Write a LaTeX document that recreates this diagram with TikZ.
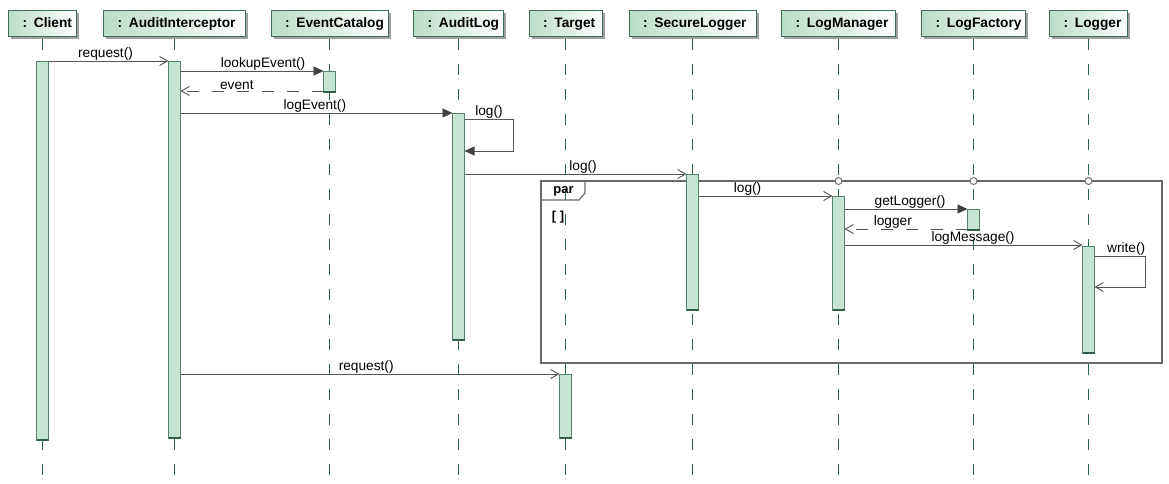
\documentclass[tikz,border=0pt]{standalone}
\usepackage{fontspec}
\setmainfont{Liberation Sans}
\usetikzlibrary{arrows.meta,shadows}

\definecolor{hdrL}{RGB}{186,221,200}
\definecolor{hdrB}{RGB}{62,110,86}
\definecolor{actF}{RGB}{197,228,211}
\definecolor{actB}{RGB}{84,130,106}
\definecolor{actBot}{RGB}{50,95,72}
\definecolor{lifeC}{RGB}{45,100,72}
\definecolor{msgC}{RGB}{85,85,85}
\definecolor{tipC}{RGB}{65,65,65}
\definecolor{frameC}{RGB}{105,105,105}
\definecolor{shadowC}{RGB}{160,160,160}

\tikzset{
  hdr/.style={draw=hdrB, line width=0.9pt, left color=hdrL, right color=white,
    minimum height=26pt, inner xsep=0pt, inner ysep=0pt, outer sep=0pt, align=left,
    text height=10pt, text depth=0.5pt,
    font=\fontsize{13.7}{15}\selectfont\bfseries,
    drop shadow={shadow xshift=2.5pt, shadow yshift=-2.5pt, fill=shadowC, opacity=1},
    execute at begin node=\hspace*{14pt}},
  life/.style={draw=lifeC, line width=1pt, dash pattern=on 11pt off 14pt},
  act/.style={draw=actB, fill=actF, line width=0.9pt, minimum width=12pt,
    inner sep=0pt, outer sep=0pt},
  actend/.style={draw=actBot, line width=2pt},
  msg/.style={draw=msgC, line width=0.9pt},
  sync/.style={msg, -{Triangle[length=10pt,width=9pt,color=tipC]}},
  call/.style={msg, -{Straight Barb[length=8pt,width=9pt]}},
  reply/.style={call, dash pattern=on 12pt off 13pt},
  lbl/.style={font=\fontsize{13.7}{15}\selectfont, text=black, inner sep=0.5pt, above},
  frameS/.style={draw=frameC, line width=1.2pt},
  gate/.style={circle, draw=frameC, fill=white, line width=0.9pt, minimum size=7pt,
    inner sep=0pt},
  fragtxt/.style={font=\fontsize{13}{15}\selectfont\bfseries, inner sep=0pt},
}

\begin{document}
\begin{tikzpicture}[x=1pt, y=-1pt]
\useasboundingbox (0,0) rectangle (1169,483);
\coordinate (bottom) at (0,483);

% object headers
\node[hdr, text width=68pt]  (client) at (42.5,23)  {: Client};
\node[hdr, text width=142pt] (ai)     at (174.5,23) {: AuditInterceptor};
\node[hdr, text width=117pt] (ec)     at (329.5,23) {: EventCatalog};
\node[hdr, text width=90pt]  (al)     at (458.5,23) {: AuditLog};
\node[hdr, text width=73pt]  (tg)     at (565.5,23) {: Target};
\node[hdr, text width=127pt] (sl)     at (692.5,23) {: SecureLogger};
\node[hdr, text width=114pt] (lm)     at (838.5,23) {: LogManager};
\node[hdr, text width=104pt] (lf)     at (973.5,23) {: LogFactory};
\node[hdr, text width=78pt]  (lg)     at (1088.5,23){: Logger};

% lifelines
\foreach \h in {client,ai,ec,al,tg,sl,lm,lf,lg}
  \draw[life] ([yshift=-3pt]\h.south) -- (\h.south |- bottom);

% par combined fragment
\node[frameS, minimum width=621pt, minimum height=182pt, inner sep=0pt, outer sep=0pt,
      anchor=north west] (par) at (541,181) {};
\draw[frameS] (par.north west) -- ++(44,0) -- ++(0,12) -- ++(-6,7) -- ++(-38,0);
\node[fragtxt] (parLbl) at (563.5,191) {par};
\node[fragtxt] (guard) at (558,217) {[ ]};
\foreach \h in {lm,lf,lg}
  \node[gate] (gate-\h) at (\h.south |- par.north) {};

% activations
\node[act, minimum height=379pt] (clientAct) at (client.south |- 0,250.5) {};
\node[act, minimum height=377pt] (aiAct)     at (ai.south |- 0,249.5) {};
\node[act, minimum height=21pt]  (ecAct)     at (ec.south |- 0,81.5) {};
\node[act, minimum height=227pt] (alAct)     at (al.south |- 0,226.5) {};
\node[act, minimum height=64pt]  (tgAct)     at (tg.south |- 0,406) {};
\node[act, minimum height=136pt] (slAct)     at (sl.south |- 0,242) {};
\node[act, minimum height=114pt] (lmAct)     at (lm.south |- 0,253) {};
\node[act, minimum height=21pt]  (lfAct)     at (lf.south |- 0,219.5) {};
\node[act, minimum height=107pt] (lgAct)     at (lg.south |- 0,299.5) {};
\foreach \a in {clientAct,aiAct,ecAct,alAct,tgAct,slAct,lmAct,lfAct,lgAct}
  \draw[actend] (\a.south west) -- (\a.south east);

% messages
\draw[call]  (clientAct.east |- 0,61) -- node[lbl,pos=.475]{request()} (aiAct.west |- 0,61);
\draw[sync]  (aiAct.east |- 0,71) -- node[lbl,pos=.577]{lookupEvent()} (ecAct.west |- 0,71);
\draw[reply] (ecAct.west |- 0,91) -- node[lbl,pos=.606]{event} (aiAct.east |- 0,91);
\draw[sync]  (aiAct.east |- 0,113) -- node[lbl,pos=.494]{logEvent()} (alAct.west |- 0,113);
\draw[sync]  (alAct.east |- 0,119) -- node[lbl]{log()} ++(49,0) |- (alAct.east |- 0,151);
\draw[call]  (alAct.east |- 0,174) -- node[lbl,pos=.534]{log()} (slAct.west |- 0,174);
\draw[call]  (slAct.east |- 0,196) -- node[lbl,pos=.366]{log()} (lmAct.west |- 0,196);
\draw[sync]  (lmAct.east |- 0,209) -- node[lbl,pos=.533]{getLogger()} (lfAct.west |- 0,209);
\draw[reply] (lfAct.west |- 0,229) -- node[lbl,pos=.607]{logger} (lmAct.east |- 0,229);
\draw[call]  (lmAct.east |- 0,245) -- node[lbl,pos=.54]{logMessage()} (lgAct.west |- 0,245);
\draw[call]  (lgAct.east |- 0,256) -- node[lbl,pos=.62]{write()} ++(51,0) |- (lgAct.east |- 0,287);
\draw[call]  (aiAct.east |- 0,374) -- node[lbl,pos=.49]{request()} (tgAct.west |- 0,374);
\end{tikzpicture}
\end{document}
